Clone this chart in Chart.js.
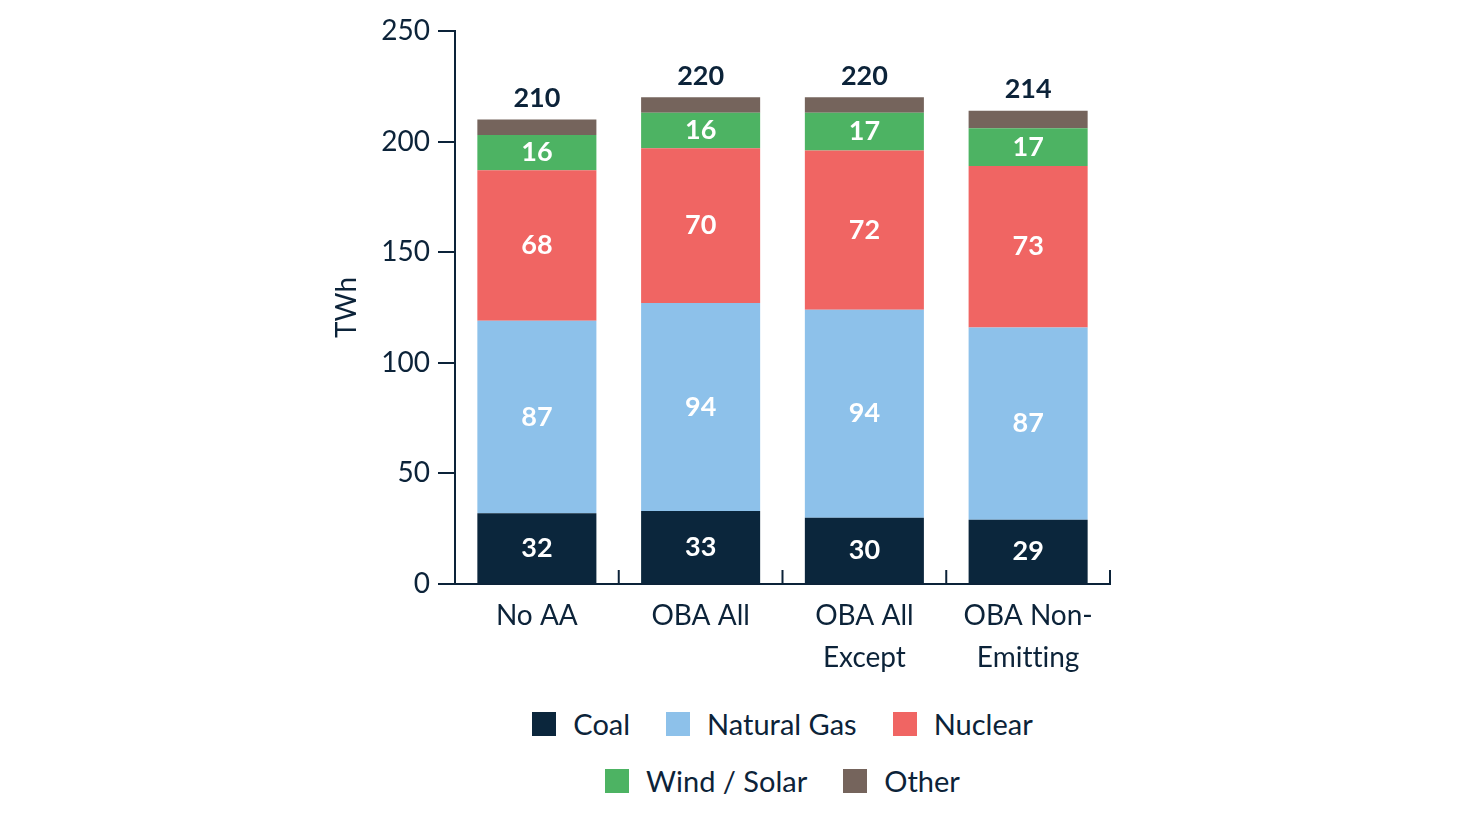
<!DOCTYPE html>
<html>
<head>
<meta charset="utf-8">
<script src="https://cdn.jsdelivr.net/npm/chart.js@4"></script>
<style>
  body { margin: 0; background: #fff; }
  #wrap { position: relative; width: 1480px; height: 828px; }
  #chart { position: absolute; left: 0; top: 0; }
  #legend {
    position: absolute; left: 455px; top: 707px; width: 655px;
    display: flex; flex-wrap: wrap; justify-content: center;
    column-gap: 36px; row-gap: 23px;
    font-family: Lato, sans-serif; font-size: 29px; color: #0c2339; line-height: 34px;
  }
  .item { display: flex; align-items: center; }
  .box { width: 24px; height: 24px; margin-right: 17px; }
</style>
</head>
<body>
<div id="wrap">
  <canvas id="chart" width="1480" height="700"></canvas>
  <div id="legend"></div>
</div>
<script>
// scenarios and generation by source (TWh)
const categories = [["No AA"], ["OBA All"], ["OBA All", "Except"], ["OBA Non-", "Emitting"]];
const coal = [32, 33, 30, 29];
const naturalGas = [87, 94, 94, 87];
const nuclear = [68, 70, 72, 73];
const windSolar = [16, 16, 17, 17];
const other = [7, 7, 7, 8];
const totals = [210, 220, 220, 214];
const yTicks = [0, 50, 100, 150, 200, 250];

const navy = "#0c2339";
const font = "Lato, sans-serif";

const series = [
  { label: "Coal", data: coal, color: "#0b263c", showValue: true },
  { label: "Natural Gas", data: naturalGas, color: "#8dc1ea", showValue: true },
  { label: "Nuclear", data: nuclear, color: "#f06563", showValue: true },
  { label: "Wind / Solar", data: windSolar, color: "#4db363", showValue: true },
  { label: "Other", data: other, color: "#75645c", showValue: false }
];

// no "tt" ligature in canvas text
const plainText = {
  id: "plainText",
  beforeDraw(chart) { chart.ctx.textRendering = "optimizeSpeed"; }
};

// labels inside segments and totals above bars
const valueLabels = {
  id: "valueLabels",
  afterDatasetsDraw(chart) {
    const ctx = chart.ctx;
    ctx.save();
    ctx.textAlign = "center";
    ctx.textBaseline = "middle";
    ctx.font = "bold 27px " + font;
    chart.data.datasets.forEach((ds, i) => {
      if (!series[i].showValue) return;
      chart.getDatasetMeta(i).data.forEach((bar, j) => {
        ctx.fillStyle = "#ffffff";
        ctx.fillText(ds.data[j], bar.x, (bar.y + bar.base) / 2);
      });
    });
    const top = chart.getDatasetMeta(chart.data.datasets.length - 1);
    top.data.forEach((bar, j) => {
      ctx.fillStyle = navy;
      ctx.fillText(totals[j], bar.x, bar.y - 21);
    });
    ctx.restore();
  }
};

// small upward ticks between categories on the x axis
const innerTicks = {
  id: "innerTicks",
  afterDraw(chart) {
    const x = chart.scales.x;
    const ctx = chart.ctx;
    const step = x.getPixelForValue(1) - x.getPixelForValue(0);
    ctx.save();
    ctx.strokeStyle = navy;
    ctx.lineWidth = 2;
    for (let i = 0; i <= categories.length; i++) {
      const px = x.getPixelForValue(0) - step / 2 + i * step;
      ctx.beginPath();
      ctx.moveTo(px, x.top);
      ctx.lineTo(px, x.top - 14);
      ctx.stroke();
    }
    ctx.restore();
  }
};

new Chart(document.getElementById("chart"), {
  type: "bar",
  data: {
    labels: categories,
    datasets: series.map(s => ({
      label: s.label,
      data: s.data,
      backgroundColor: s.color,
      borderWidth: 0,
      categoryPercentage: 0.727,
      barPercentage: 1
    }))
  },
  options: {
    responsive: false,
    animation: false,
    layout: { padding: { left: 330, right: 370, top: 31, bottom: 16 } },
    plugins: { legend: { display: false }, tooltip: { enabled: false } },
    scales: {
      x: {
        stacked: true,
        afterFit: s => { s.height = 100; },
        grid: { display: false },
        border: { display: true, color: navy, width: 2 },
        ticks: { color: navy, padding: 3, font: { family: font, size: 28, lineHeight: 1.5 } }
      },
      y: {
        stacked: true,
        min: 0, max: 250,
        afterFit: s => { s.width = 125; },
        afterBuildTicks: s => { s.ticks = yTicks.map(v => ({ value: v })); },
        grid: { drawOnChartArea: false, drawTicks: true, tickLength: 17, color: navy, lineWidth: 2 },
        border: { display: true, color: navy, width: 2 },
        ticks: { color: navy, padding: 8, font: { family: font, size: 28 } },
        title: { display: true, text: "TWh", color: navy, padding: 0, font: { family: font, size: 28 } }
      }
    }
  },
  plugins: [plainText, valueLabels, innerTicks]
});

// legend
const legend = document.getElementById("legend");
series.forEach(s => {
  const item = document.createElement("div");
  item.className = "item";
  item.innerHTML = '<span class="box" style="background:' + s.color + '"></span><span>' + s.label + '</span>';
  legend.appendChild(item);
});
</script>
</body>
</html>
